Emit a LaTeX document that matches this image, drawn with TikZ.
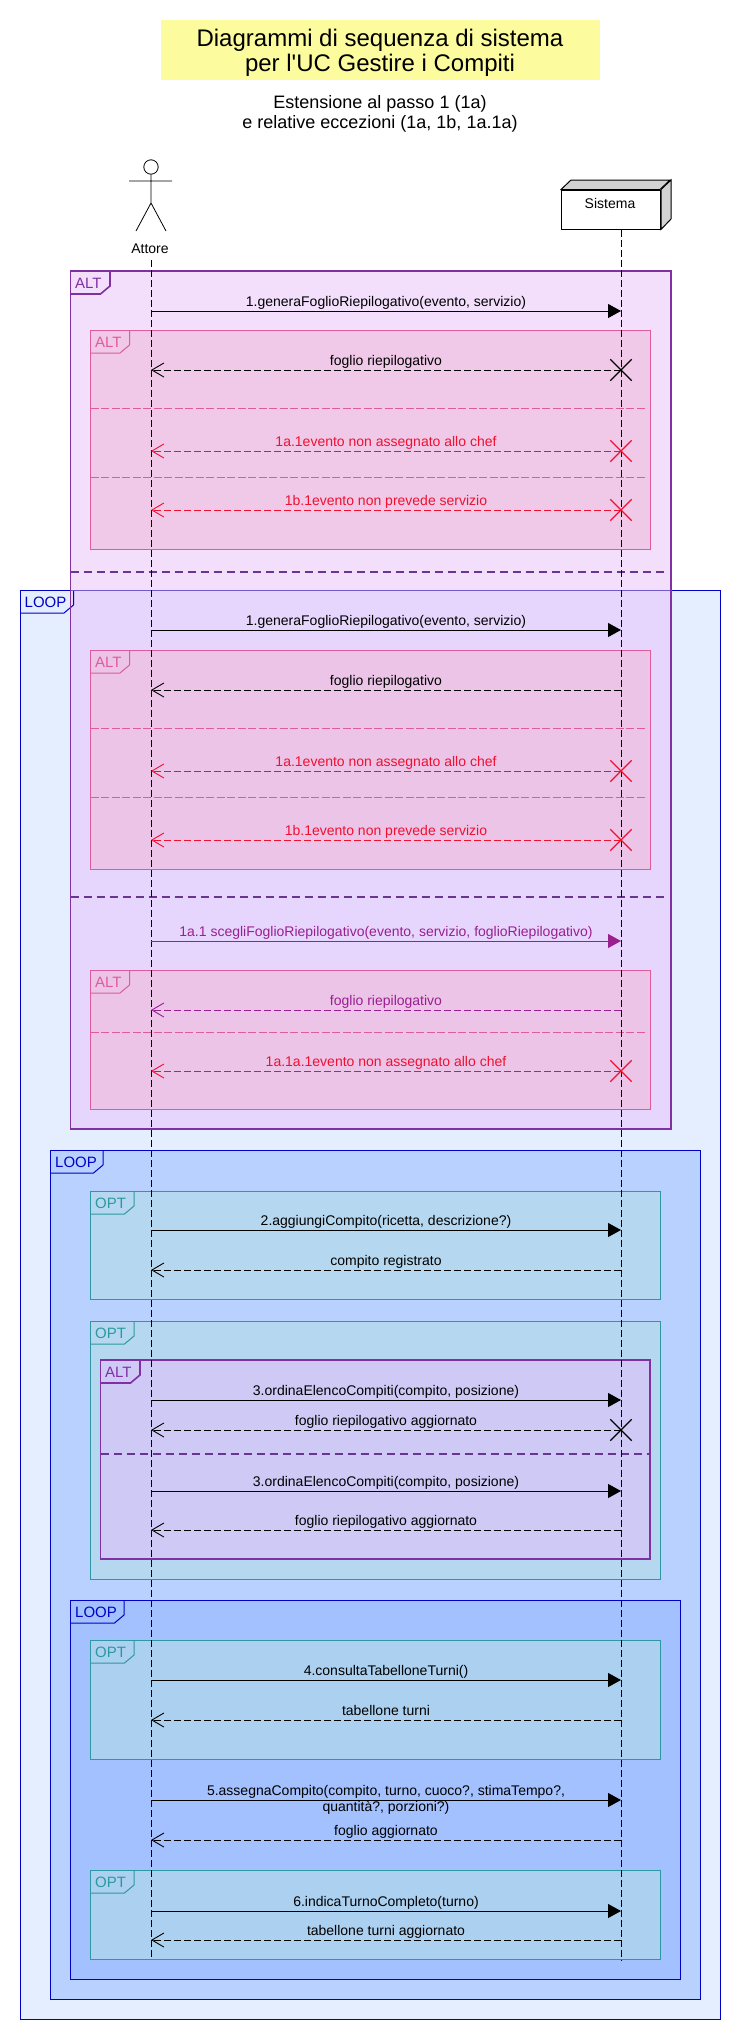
\documentclass[tikz,border=0pt]{standalone}
\usepackage{fontspec}
\setmainfont{Liberation Sans}
\usetikzlibrary{positioning,arrows.meta,shapes.misc}
\definecolor{altpurple}{HTML}{7F30A3}
\definecolor{altdash}{HTML}{6A3590}
\definecolor{altpink}{HTML}{DE5C9C}
\definecolor{loopblue}{HTML}{0000C8}
\definecolor{optteal}{HTML}{2E98A0}
\definecolor{callpurple}{HTML}{9A1F8F}
\definecolor{errorred}{HTML}{F01030}
\tikzset{%
  msgfont/.style={font=\fontsize{14}{16}\selectfont,inner sep=0pt,pos=0.5},
  msgtext/.style={msgfont,anchor=base,yshift=5pt},
  call/.style={line width=1pt,-{Triangle[length=13pt,width=14pt]}},
  reply/.style={line width=0.9pt,dash pattern=on 7pt off 3pt,-{Straight Barb[length=12pt,width=14pt,line width=0.9pt]}},
  lifeline/.style={line width=0.8pt,dash pattern=on 7pt off 3pt},
  xmark/.style={cross out,draw=#1,line width=1.3pt,minimum width=20pt,minimum height=20pt,inner sep=0pt},
  divthick/.style={draw=altdash,line width=2pt,dash pattern=on 8pt off 5pt},
  divthin/.style={draw=altpink,line width=0.7pt,dash pattern=on 8pt off 2.5pt}
}
% colour, width, fill, x0, y0, x1, y1, right side of the tab, tab text
\newcommand{\fragbox}[9]{%
  \draw[draw=#1,line width=#2,fill=#3] (#4,#5) rectangle (#6,#7);
  \draw[draw=#1,line width=#2] (#4,#5+23) -- ({#8-9.5},#5+23) -- (#8,#5+15) -- (#8,#5);
  \node[text=#1,font=\fontsize{15}{16}\selectfont,anchor=west,inner sep=0pt] (tag#5) at (#4+4.5,#5+12) {#9};
}

\begin{document}
\begin{tikzpicture}[x=1pt,y=-1pt]
    \useasboundingbox (0,0) rectangle (740,2040);
    \def\xA{151} \def\xS{621}

    % Title
    \node[fill={rgb,255:red,252;green,252;blue,158},minimum width=439pt,minimum height=60pt,inner sep=0pt] (titlebox) at (380,50) {};
    \node[align=center,inner sep=0pt,font=\fontsize{24}{25.5}\selectfont] (title) at (380,53) {Diagrammi di sequenza di sistema\\per l\textquotesingle UC Gestire i Compiti};
    \node[align=center,inner sep=0pt,font=\fontsize{18}{20}\selectfont] (subtitle) at (380,113.5) {Estensione al passo 1 (1a)\\e relative eccezioni (1a, 1b, 1a.1a)};

    % Outer frames, with the part where they overlap
    \fill[fill={rgb,255:red,228;green,238;blue,255}] (20,590) rectangle (720.5,2019);
    \fill[fill={rgb,255:red,243;green,223;blue,252}] (70.5,271) rectangle (671,1129);
    \fill[fill={rgb,255:red,230;green,214;blue,253}] (70.5,590) rectangle (671,1129);
    \fragbox{loopblue}{1pt}{none}{20}{590}{720.5}{2019}{73.5}{LOOP}
    \draw[draw=loopblue!60!altpurple!70!white,line width=1pt] (70.5,590) -- (671,590);
    \fragbox{altpurple}{1.6pt}{none}{70.5}{271}{671}{1129}{110}{ALT}
    \draw[divthick] (70.5,572) -- (666,572);
    \draw[divthick] (70.5,897) -- (666,897);

    % Pink frames inside the first ALT
    \definecolor{pinkA}{HTML}{F0C8E8}
    \definecolor{pinkB}{HTML}{ECC4E8}
    \fragbox{altpink}{1pt}{pinkA}{90.5}{330}{650}{549}{129.5}{ALT}
    \fragbox{altpink}{1pt}{pinkB}{90.5}{650}{650}{869}{129.5}{ALT}
    \fragbox{altpink}{1pt}{pinkB}{90.5}{970}{650}{1109}{129.5}{ALT}
    \foreach \yD in {408,477,728,797,1032}
        \draw[divthin] (90.5,\yD) -- (647,\yD);

    % Second and third LOOP with their OPT frames
    \definecolor{loopB}{HTML}{B8D1FF}
    \definecolor{loopC}{HTML}{A3C0FF}
    \definecolor{optB}{HTML}{B5D8F0}
    \definecolor{optC}{HTML}{ABD0F0}
    \definecolor{altC}{HTML}{CFC9F6}
    \fragbox{loopblue}{1pt}{loopB}{50.5}{1150}{700.5}{1999}{103}{LOOP}
    \fragbox{optteal}{1pt}{optB}{90.5}{1191}{660}{1299}{134}{OPT}
    \fragbox{optteal}{1pt}{optB}{90.5}{1321}{660}{1579}{134}{OPT}
    \fragbox{altpurple}{1.6pt}{altC}{100.5}{1360}{650}{1559}{140}{ALT}
    \draw[divthick] (100.5,1454) -- (650,1454);
    \fragbox{loopblue}{1pt}{loopC}{70.5}{1600}{680.5}{1979}{124}{LOOP}
    \fragbox{optteal}{1pt}{optC}{90.5}{1640}{660}{1759}{134}{OPT}
    \fragbox{optteal}{1pt}{optC}{90.5}{1870}{660}{1959}{134}{OPT}

    % Attore
    \node[circle,draw,line width=0.8pt,minimum size=14.4pt,inner sep=0pt] (head) at (\xA,167) {};
    \coordinate (hip) at (\xA,203);
    \coordinate (armL) at (129,181);
    \coordinate (armR) at (172,181);
    \coordinate (footL) at (136,231);
    \coordinate (footR) at (166,231);
    \draw[line width=0.8pt] (head) -- (hip) (armL) -- (armR) (footL) -- (hip) -- (footR);
    \node[font=\fontsize{14}{16}\selectfont,inner sep=0pt] (attore) at (150,249) {Attore};

    % Sistema
    \node[draw,fill=white,line width=1pt,minimum width=99pt,minimum height=39pt,inner sep=0pt] (sistema) at (611,209.5) {};
    \draw[line width=1pt,fill=gray!35!white] (sistema.north west) -- ++(10,-9.5) -- ++(99,0) -- ++(-10,9.5) -- cycle;
    \draw[line width=1pt,fill=gray!35!white] (sistema.north east) -- ++(10,-9.5) -- ++(0,39) -- (sistema.south east) -- cycle;
    \node[font=\fontsize{14}{16}\selectfont,inner sep=0pt] (sistemalabel) at (610,203) {Sistema};

    % Lifelines
    \coordinate (Atop) at (\xA,260);
    \coordinate (Abot) at (\xA,1959);
    \coordinate (Sbot) at (\xS,1960);
    \draw[lifeline] (Atop) -- (Abot);
    \draw[lifeline] (sistema.south -| Sbot) -- (Sbot);

    % Calls
    \foreach \yM/\colM/\txtM in {311/black/{1.generaFoglioRiepilogativo(evento, servizio)},
        630/black/{1.generaFoglioRiepilogativo(evento, servizio)},
        941/callpurple/{1a.1 scegliFoglioRiepilogativo(evento, servizio, foglioRiepilogativo)},
        1230/black/{2.aggiungiCompito(ricetta, descrizione?)},
        1400/black/{3.ordinaElencoCompiti(compito, posizione)},
        1491/black/{3.ordinaElencoCompiti(compito, posizione)},
        1680/black/{4.consultaTabelloneTurni()},
        1911/black/{6.indicaTurnoCompleto(turno)}}
        {
        \coordinate (A\yM) at (\xA,\yM);
        \coordinate (S\yM) at (\xS,\yM);
        \draw[call,color=\colM] (A\yM) -- (S\yM) node[msgtext] (msg\yM) {\txtM};
        }

    \coordinate (A1800) at (\xA,1800);
    \coordinate (S1800) at (\xS,1800);
    \draw[call] (A1800) -- (S1800) node[msgfont,align=center] (msg1800) {5.assegnaCompito(compito, turno, cuoco?, stimaTempo?,\\quantità?, porzioni?)};

    % Replies
    \foreach \yM/\colM/\txtM in {370/black/{foglio riepilogativo},
        451/errorred/{1a.1evento non assegnato allo chef},
        510/errorred/{1b.1evento non prevede servizio},
        690/black/{foglio riepilogativo},
        771/errorred/{1a.1evento non assegnato allo chef},
        840/errorred/{1b.1evento non prevede servizio},
        1010/callpurple/{foglio riepilogativo},
        1071/errorred/{1a.1a.1evento non assegnato allo chef},
        1270/black/{compito registrato},
        1430/black/{foglio riepilogativo aggiornato},
        1530/black/{foglio riepilogativo aggiornato},
        1720/black/{tabellone turni},
        1840/black/{foglio aggiornato},
        1940/black/{tabellone turni aggiornato}}
        {
        \coordinate (A\yM) at (\xA,\yM);
        \coordinate (S\yM) at (\xS,\yM);
        \draw[reply,color=\colM] (S\yM) -- (A\yM) node[msgtext] (msg\yM) {\txtM};
        }

    % Crosses on the lifeline
    \foreach \yM/\colM in {370/black,451/errorred,510/errorred,771/errorred,840/errorred,1071/errorred,1430/black}
        \node[xmark=\colM] (x\yM) at (S\yM) {};

\end{tikzpicture}
\end{document}
